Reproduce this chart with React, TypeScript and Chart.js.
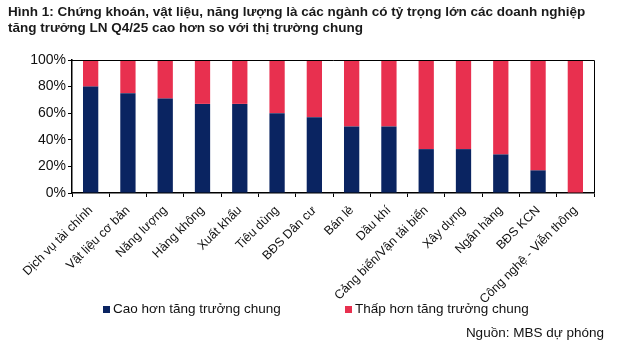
import React, { useEffect, useRef } from "react";
import { Chart, registerables } from "chart.js";

Chart.register(...registerables);

const categories = [
  "Dịch vụ tài chính",
  "Vật liệu cơ bản",
  "Năng lượng",
  "Hàng không",
  "Xuất khẩu",
  "Tiêu dùng",
  "BĐS Dân cư",
  "Bán lẻ",
  "Dầu khí",
  "Cảng biển/Vận tải biển",
  "Xây dựng",
  "Ngân hàng",
  "BĐS KCN",
  "Công nghệ - Viễn thông",
];
const higherShare = [80, 75, 71, 67, 67, 60, 57, 50, 50, 33, 33, 29, 17, 0];
const lowerShare = [20, 25, 29, 33, 33, 40, 43, 50, 50, 67, 67, 71, 83, 100];
const yTicks = [0, 20, 40, 60, 80, 100];
const seriesNames = ["Cao hơn tăng trưởng chung", "Thấp hơn tăng trưởng chung"];
const titleLines = [
  "Hình 1: Chứng khoán, vật liệu, năng lượng là các ngành có tỷ trọng lớn các doanh nghiệp",
  "tăng trưởng LN Q4/25 cao hơn so với thị trường chung",
];
const sourceText = "Nguồn: MBS dự phóng";

const BLUE = "#0a2461";
const RED = "#e8304f";
const FONT = "'Liberation Sans', Arial, sans-serif";

const boxPlugin = {
  id: "boxBorder",
  afterDraw(chart: any) {
    const { ctx, chartArea } = chart;
    ctx.save();
    ctx.strokeStyle = "#000";
    ctx.lineWidth = 1;
    ctx.beginPath();
    ctx.moveTo(chartArea.left, chartArea.top + 0.5);
    ctx.lineTo(chartArea.right + 0.5, chartArea.top + 0.5);
    ctx.lineTo(chartArea.right + 0.5, chartArea.bottom);
    ctx.stroke();
    ctx.restore();
  },
};

export default function App() {
  const ref = useRef<HTMLCanvasElement>(null);

  useEffect(() => {
    const chart = new Chart(ref.current as HTMLCanvasElement, {
      type: "bar",
      data: {
        labels: categories,
        datasets: [
          {
            label: seriesNames[0],
            data: higherShare,
            backgroundColor: BLUE,
            barPercentage: 0.41,
            categoryPercentage: 1,
          },
          {
            label: seriesNames[1],
            data: lowerShare,
            backgroundColor: RED,
            barPercentage: 0.41,
            categoryPercentage: 1,
          },
        ],
      },
      options: {
        animation: false,
        responsive: false,
        maintainAspectRatio: false,
        layout: { padding: { left: 0, right: 32, top: 60, bottom: 0 } },
        plugins: {
          legend: { display: false },
          tooltip: { enabled: false },
          title: { display: false },
        },
        scales: {
          x: {
            stacked: true,
            offset: true,
            grid: {
              display: true,
              drawOnChartArea: false,
              tickLength: 4,
              color: "#000",
              offset: true,
            },
            border: { color: "#000", width: 1.5 },
            ticks: {
              autoSkip: false,
              maxRotation: 45,
              minRotation: 45,
              color: "#111",
              padding: 6,
              font: { family: FONT, size: 12.5 },
            },
            afterFit(scale: any) {
              scale.height = 164;
            },
          },
          y: {
            stacked: true,
            min: 0,
            max: 100,
            grid: {
              display: true,
              drawOnChartArea: false,
              tickLength: 4,
              color: "#000",
            },
            border: { color: "#000", width: 1.5 },
            afterBuildTicks(scale: any) {
              scale.ticks = yTicks.map((v) => ({ value: v }));
            },
            ticks: {
              color: "#111",
              padding: 2,
              font: { family: FONT, size: 14 },
              callback: (v: any) => v + "%",
            },
            afterFit(scale: any) {
              scale.width = 72;
            },
          },
        },
      },
      plugins: [boxPlugin],
    });
    return () => chart.destroy();
  }, []);

  return (
    <div
      style={{
        position: "fixed",
        left: 0,
        top: 0,
        width: 626,
        height: 357,
        background: "#fff",
        fontFamily: FONT,
        color: "#111",
      }}
    >
      <canvas
        ref={ref}
        width={626}
        height={357}
        style={{ position: "absolute", left: 0, top: 0, width: 626, height: 357 }}
      />
      <div
        style={{
          position: "absolute",
          left: 8,
          top: 4,
          fontWeight: "bold",
          fontSize: 13.5,
          lineHeight: "16px",
          color: "#1a1a1a",
          whiteSpace: "nowrap",
        }}
      >
        {titleLines.map((t, i) => (
          <div key={i}>{t}</div>
        ))}
      </div>
      <div
        style={{
          position: "absolute",
          left: 103,
          top: 301,
          fontSize: 13.5,
          lineHeight: "16px",
          display: "flex",
          alignItems: "center",
          whiteSpace: "nowrap",
        }}
      >
        <span style={{ width: 7, height: 7, background: BLUE, display: "inline-block", marginRight: 3 }} />
        {seriesNames[0]}
      </div>
      <div
        style={{
          position: "absolute",
          left: 345,
          top: 301,
          fontSize: 13.5,
          lineHeight: "16px",
          display: "flex",
          alignItems: "center",
          whiteSpace: "nowrap",
        }}
      >
        <span style={{ width: 7, height: 7, background: RED, display: "inline-block", marginRight: 3 }} />
        {seriesNames[1]}
      </div>
      <div
        style={{
          position: "absolute",
          right: 22,
          top: 325,
          fontSize: 13.5,
          lineHeight: "16px",
          whiteSpace: "nowrap",
        }}
      >
        {sourceText}
      </div>
    </div>
  );
}
